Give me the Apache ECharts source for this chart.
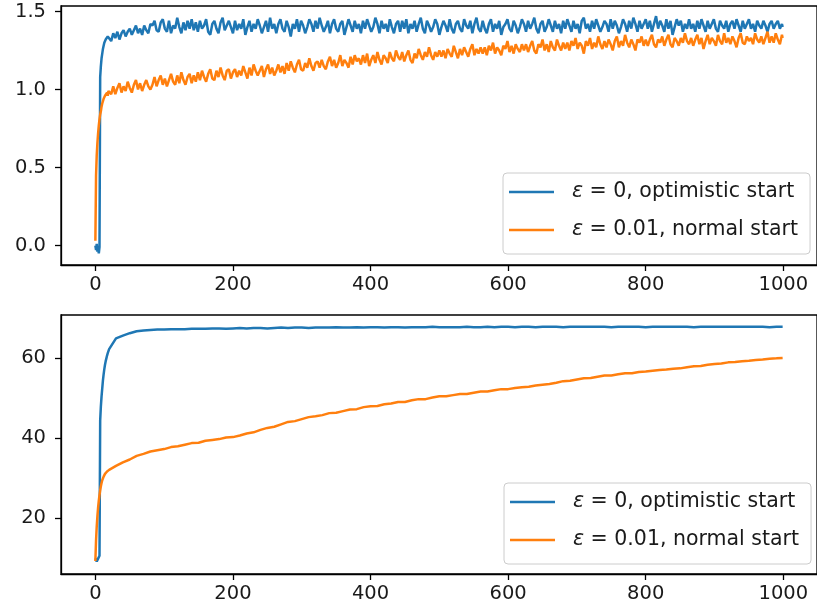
<!DOCTYPE html>
<html>
<head>
<meta charset="utf-8">
<script src="https://cdn.jsdelivr.net/npm/echarts@6/dist/echarts.min.js"></script>
<style>
  html, body { margin: 0; padding: 0; background: #fff; }
  #chart { width: 817px; height: 611px; }
</style>
</head>
<body>
<div id="chart"></div>
<script>
// series names (legend)
const names = ['ε = 0, optimistic start', 'ε = 0.01, normal start'];

// tick labels
const xTicks = [0, 200, 400, 600, 800, 1000];
const yTicksTop = [0.0, 0.5, 1.0, 1.5];
const yTicksBottom = [20, 40, 60];

// top plot: steps 0..20 one by one, then every 3rd step up to 999
const topBlue = [
  0.00,-0.03,0.01,-0.04,-0.02,-0.05,-0.01,1.08,1.15,1.20,1.23,1.26,1.28,1.30,1.31,1.32,1.31,1.33,1.34,1.33,1.35,
  1.31,1.36,1.33,1.37,1.32,1.36,1.38,1.34,1.37,1.39,1.35,1.38,1.41,1.36,1.39,1.35,1.41,1.38,1.36,1.42,
  1.41,1.44,1.38,1.37,1.43,1.45,1.39,1.37,1.44,1.36,1.41,1.39,1.46,1.40,1.36,1.43,1.38,1.44,1.39,1.45,
  1.38,1.43,1.37,1.44,1.39,1.41,1.45,1.37,1.35,1.42,1.44,1.39,1.36,1.43,1.46,1.38,1.41,1.44,1.40,1.36,
  1.44,1.38,1.42,1.39,1.45,1.35,1.40,1.44,1.37,1.42,1.39,1.45,1.41,1.36,1.40,1.44,1.37,1.46,1.39,1.42,
  1.36,1.42,1.45,1.39,1.37,1.44,1.40,1.34,1.42,1.39,1.45,1.37,1.44,1.41,1.36,1.40,1.45,1.42,1.37,1.44,
  1.39,1.46,1.41,1.37,1.40,1.44,1.36,1.42,1.45,1.39,1.37,1.42,1.44,1.35,1.40,1.45,1.41,1.37,1.44,1.39,
  1.42,1.36,1.44,1.39,1.45,1.41,1.37,1.40,1.46,1.42,1.36,1.44,1.39,1.42,1.37,1.45,1.40,1.36,1.42,1.44,
  1.37,1.44,1.39,1.45,1.36,1.42,1.39,1.44,1.37,1.42,1.46,1.39,1.36,1.44,1.41,1.37,1.40,1.45,1.42,1.35,
  1.40,1.44,1.41,1.37,1.45,1.39,1.36,1.42,1.44,1.39,1.37,1.45,1.41,1.39,1.44,1.36,1.42,1.46,1.39,1.37,
  1.44,1.39,1.36,1.42,1.45,1.37,1.42,1.39,1.44,1.35,1.40,1.42,1.45,1.39,1.37,1.44,1.41,1.36,1.40,1.45,
  1.42,1.37,1.44,1.39,1.42,1.46,1.39,1.36,1.42,1.44,1.37,1.40,1.45,1.41,1.37,1.44,1.39,1.42,1.36,1.44,
  1.39,1.45,1.41,1.37,1.44,1.39,1.42,1.36,1.44,1.46,1.39,1.42,1.37,1.44,1.39,1.45,1.41,1.37,1.40,1.44,
  1.42,1.37,1.45,1.39,1.44,1.41,1.36,1.40,1.45,1.42,1.37,1.44,1.39,1.46,1.42,1.37,1.44,1.39,1.42,1.45,
  1.39,1.44,1.37,1.42,1.47,1.39,1.44,1.41,1.37,1.45,1.39,1.44,1.35,1.40,1.45,1.41,1.44,1.37,1.42,1.39,
  1.45,1.39,1.42,1.37,1.44,1.39,1.45,1.41,1.37,1.44,1.39,1.42,1.45,1.39,1.37,1.44,1.41,1.39,1.44,1.37,
  1.42,1.44,1.39,1.45,1.41,1.37,1.44,1.39,1.42,1.45,1.39,1.42,1.37,1.44,1.41,1.39,1.44,1.41,1.37,1.42,
  1.44,1.39,1.42,1.44,1.39,1.42,1.40
];
const topOrange = [
  0.03,0.45,0.58,0.66,0.72,0.77,0.81,0.84,0.86,0.89,0.91,0.92,0.94,0.95,0.96,0.95,0.97,0.98,0.96,0.99,0.98,
  0.97,1.02,0.97,1.01,1.04,0.98,1.02,0.99,1.05,1.01,0.98,1.03,1.06,1.00,1.04,0.99,1.03,1.06,1.02,1.00,
  1.03,1.08,1.02,1.06,1.09,1.03,1.07,1.02,1.06,1.10,1.05,1.03,1.09,1.04,1.11,1.06,1.03,1.08,1.10,1.04,
  1.09,1.05,1.11,1.06,1.12,1.08,1.05,1.10,1.13,1.07,1.06,1.12,1.08,1.14,1.09,1.06,1.12,1.13,1.07,1.11,
  1.13,1.08,1.12,1.09,1.15,1.11,1.07,1.14,1.09,1.16,1.12,1.09,1.12,1.15,1.08,1.13,1.16,1.10,1.14,1.09,
  1.12,1.16,1.11,1.15,1.10,1.17,1.12,1.18,1.14,1.11,1.16,1.19,1.13,1.12,1.17,1.14,1.20,1.15,1.12,1.17,
  1.18,1.14,1.19,1.15,1.13,1.18,1.21,1.15,1.19,1.14,1.17,1.22,1.15,1.19,1.17,1.14,1.21,1.16,1.22,1.18,
  1.20,1.16,1.22,1.17,1.23,1.15,1.19,1.22,1.17,1.24,1.19,1.16,1.22,1.20,1.17,1.24,1.20,1.18,1.25,1.21,
  1.19,1.24,1.18,1.22,1.25,1.19,1.17,1.23,1.20,1.26,1.22,1.19,1.24,1.21,1.27,1.22,1.19,1.24,1.21,1.25,
  1.21,1.25,1.20,1.26,1.23,1.21,1.28,1.24,1.20,1.26,1.22,1.27,1.24,1.21,1.26,1.29,1.22,1.26,1.23,1.27,
  1.23,1.27,1.22,1.28,1.25,1.30,1.23,1.27,1.25,1.22,1.28,1.26,1.31,1.24,1.28,1.23,1.29,1.26,1.24,1.29,
  1.25,1.29,1.24,1.28,1.31,1.25,1.23,1.29,1.27,1.32,1.25,1.29,1.24,1.31,1.27,1.25,1.32,1.28,1.25,1.30,
  1.26,1.30,1.25,1.31,1.28,1.33,1.26,1.30,1.28,1.23,1.31,1.28,1.33,1.26,1.30,1.27,1.34,1.29,1.26,1.31,
  1.27,1.32,1.29,1.25,1.31,1.34,1.27,1.31,1.28,1.35,1.30,1.27,1.32,1.29,1.25,1.32,1.30,1.34,1.28,1.32,
  1.28,1.32,1.35,1.29,1.27,1.32,1.30,1.34,1.28,1.32,1.35,1.29,1.27,1.33,1.31,1.28,1.33,1.30,1.36,1.31,
  1.29,1.33,1.28,1.32,1.35,1.29,1.33,1.26,1.31,1.35,1.29,1.33,1.31,1.28,1.35,1.31,1.29,1.36,1.30,1.33,
  1.29,1.34,1.31,1.27,1.33,1.36,1.30,1.29,1.34,1.31,1.33,1.29,1.36,1.32,1.30,1.34,1.29,1.33,1.37,1.30,
  1.34,1.30,1.36,1.32,1.29,1.35,1.33
];

// bottom plot: steps 0..20 one by one, then every 10th step
const bottomBlue = [
  10.0,9.6,9.2,9.5,9.9,10.3,10.6,44.5,48.0,50.5,52.5,54.5,56.0,57.3,58.4,59.3,60.0,60.7,61.3,61.8,62.3,
  65.0,65.7,66.3,66.8,67.0,67.1,67.2,67.2,67.3,67.3,
  67.3,67.4,67.4,67.4,67.5,67.5,67.4,67.5,67.6,67.5,
  67.6,67.6,67.5,67.6,67.7,67.6,67.7,67.7,67.6,67.7,
  67.7,67.7,67.8,67.7,67.7,67.8,67.7,67.8,67.8,67.7,
  67.8,67.8,67.7,67.8,67.8,67.8,67.9,67.8,67.8,67.8,
  67.8,67.9,67.8,67.8,67.9,67.8,67.9,67.9,67.8,67.9,
  67.9,67.8,67.9,67.9,67.9,67.8,67.9,67.9,67.9,67.9,
  67.9,67.9,67.8,67.9,67.9,67.9,67.9,67.8,67.9,67.9,
  67.9,67.9,67.9,67.9,67.8,67.9,67.9,67.9,67.9,67.9,
  67.9,67.9,67.9,67.9,67.9,67.8,67.9,67.9
];
const bottomOrange = [
  9.3,14.5,18.0,20.6,22.7,24.4,25.8,27.0,28.0,28.8,29.5,30.0,30.4,30.8,31.1,31.3,31.5,31.7,31.8,32.0,32.1,
  33.1,34.0,34.7,35.6,36.1,36.7,37.0,37.3,37.8,38.0,
  38.4,38.8,38.9,39.4,39.6,39.8,40.2,40.3,40.7,41.2,
  41.5,42.1,42.6,42.9,43.5,44.1,44.3,44.8,45.3,45.5,
  45.8,46.3,46.4,46.8,47.2,47.3,47.8,48.0,48.1,48.5,
  48.7,49.1,49.1,49.5,49.8,49.8,50.2,50.5,50.5,50.8,
  51.1,51.1,51.4,51.7,51.7,52.0,52.3,52.3,52.6,52.8,
  52.9,53.2,53.4,53.6,53.9,54.3,54.4,54.7,55.0,55.1,
  55.4,55.7,55.7,56.0,56.3,56.3,56.6,56.7,56.9,57.1,
  57.2,57.4,57.5,57.8,58.0,58.1,58.4,58.6,58.7,59.0,
  59.1,59.3,59.4,59.6,59.7,59.9,60.0,60.1
];

// step number for the i-th value: 0..20 one by one, then `stride` apart
function stepsFor(values, stride) {
  return values.map((v, i) => [i <= 20 ? i : Math.min(20 + (i - 20) * stride, 999), v]);
}

let myChart = echarts.init(document.getElementById('chart'));

const font = 'DejaVu Sans';
const fontSize = 19.5;
const legendSize = 20.5;
const ink = '#1a1a1a';
const blue = '#1f77b4';
const orange = '#ff7f0e';

function xAxisFor(gridIndex) {
  return {
    type: 'value', gridIndex,
    min: -49.95, max: 1048.95,
    axisLine: { show: true, onZero: false, lineStyle: { color: '#000', width: 1.3 } },
    axisTick: { show: true, length: 6, customValues: xTicks, lineStyle: { color: '#000', width: 1.3 } },
    axisLabel: { customValues: xTicks, margin: 10, color: ink, fontFamily: font, fontSize, formatter: v => String(v) },
    splitLine: { show: false }
  };
}

function yAxisFor(gridIndex, min, max, ticks, fmt) {
  return {
    type: 'value', gridIndex, min, max,
    axisLine: { show: true, onZero: false, lineStyle: { color: '#000', width: 1.3 } },
    axisTick: { show: true, length: 6, customValues: ticks, lineStyle: { color: '#000', width: 1.3 } },
    axisLabel: { customValues: ticks, margin: 15, color: ink, fontFamily: font, fontSize, formatter: fmt },
    splitLine: { show: false }
  };
}

function legendAt(left, top) {
  return {
    data: names,
    orient: 'vertical',
    left, top,
    icon: 'rect',
    itemWidth: 45, itemHeight: 2.5,
    itemGap: 14,
    padding: [7, 12, 12, 6],
    backgroundColor: 'rgba(255,255,255,0.8)',
    borderColor: '#cccccc', borderWidth: 1, borderRadius: 4,
    selectedMode: false,
    formatter: name => '{it|ε}' + name.slice(1),
    textStyle: {
      color: ink, fontFamily: font, fontSize: legendSize, lineHeight: 24,
      padding: [0, 0, 0, 13],
      rich: { it: { fontStyle: 'italic', fontFamily: font, fontSize: legendSize, color: ink, lineHeight: 24 } }
    }
  };
}

function line(name, data, xi, color) {
  return {
    name, type: 'line', xAxisIndex: xi, yAxisIndex: xi,
    data, showSymbol: false, symbol: 'none', animation: false,
    lineStyle: { color, width: 2.5 }, itemStyle: { color }
  };
}

let option = {
  animation: false,
  backgroundColor: '#fff',
  grid: [
    { left: 61, top: 6, width: 760.5, height: 259, show: true, borderColor: '#000', borderWidth: 1.3, backgroundColor: 'transparent' },
    { left: 61, top: 315, width: 760.5, height: 259, show: true, borderColor: '#000', borderWidth: 1.3, backgroundColor: 'transparent' }
  ],
  xAxis: [xAxisFor(0), xAxisFor(1)],
  yAxis: [
    yAxisFor(0, -0.125, 1.535, yTicksTop, v => v.toFixed(1)),
    yAxisFor(1, 6.05, 70.85, yTicksBottom, v => String(v))
  ],
  legend: [legendAt(503, 173), legendAt(504, 483)],
  series: [
    line(names[0], stepsFor(topBlue, 3), 0, blue),
    line(names[1], stepsFor(topOrange, 3), 0, orange),
    line(names[0], stepsFor(bottomBlue, 10), 1, blue),
    line(names[1], stepsFor(bottomOrange, 10), 1, orange)
  ]
};

myChart.setOption(option);
</script>
</body>
</html>
